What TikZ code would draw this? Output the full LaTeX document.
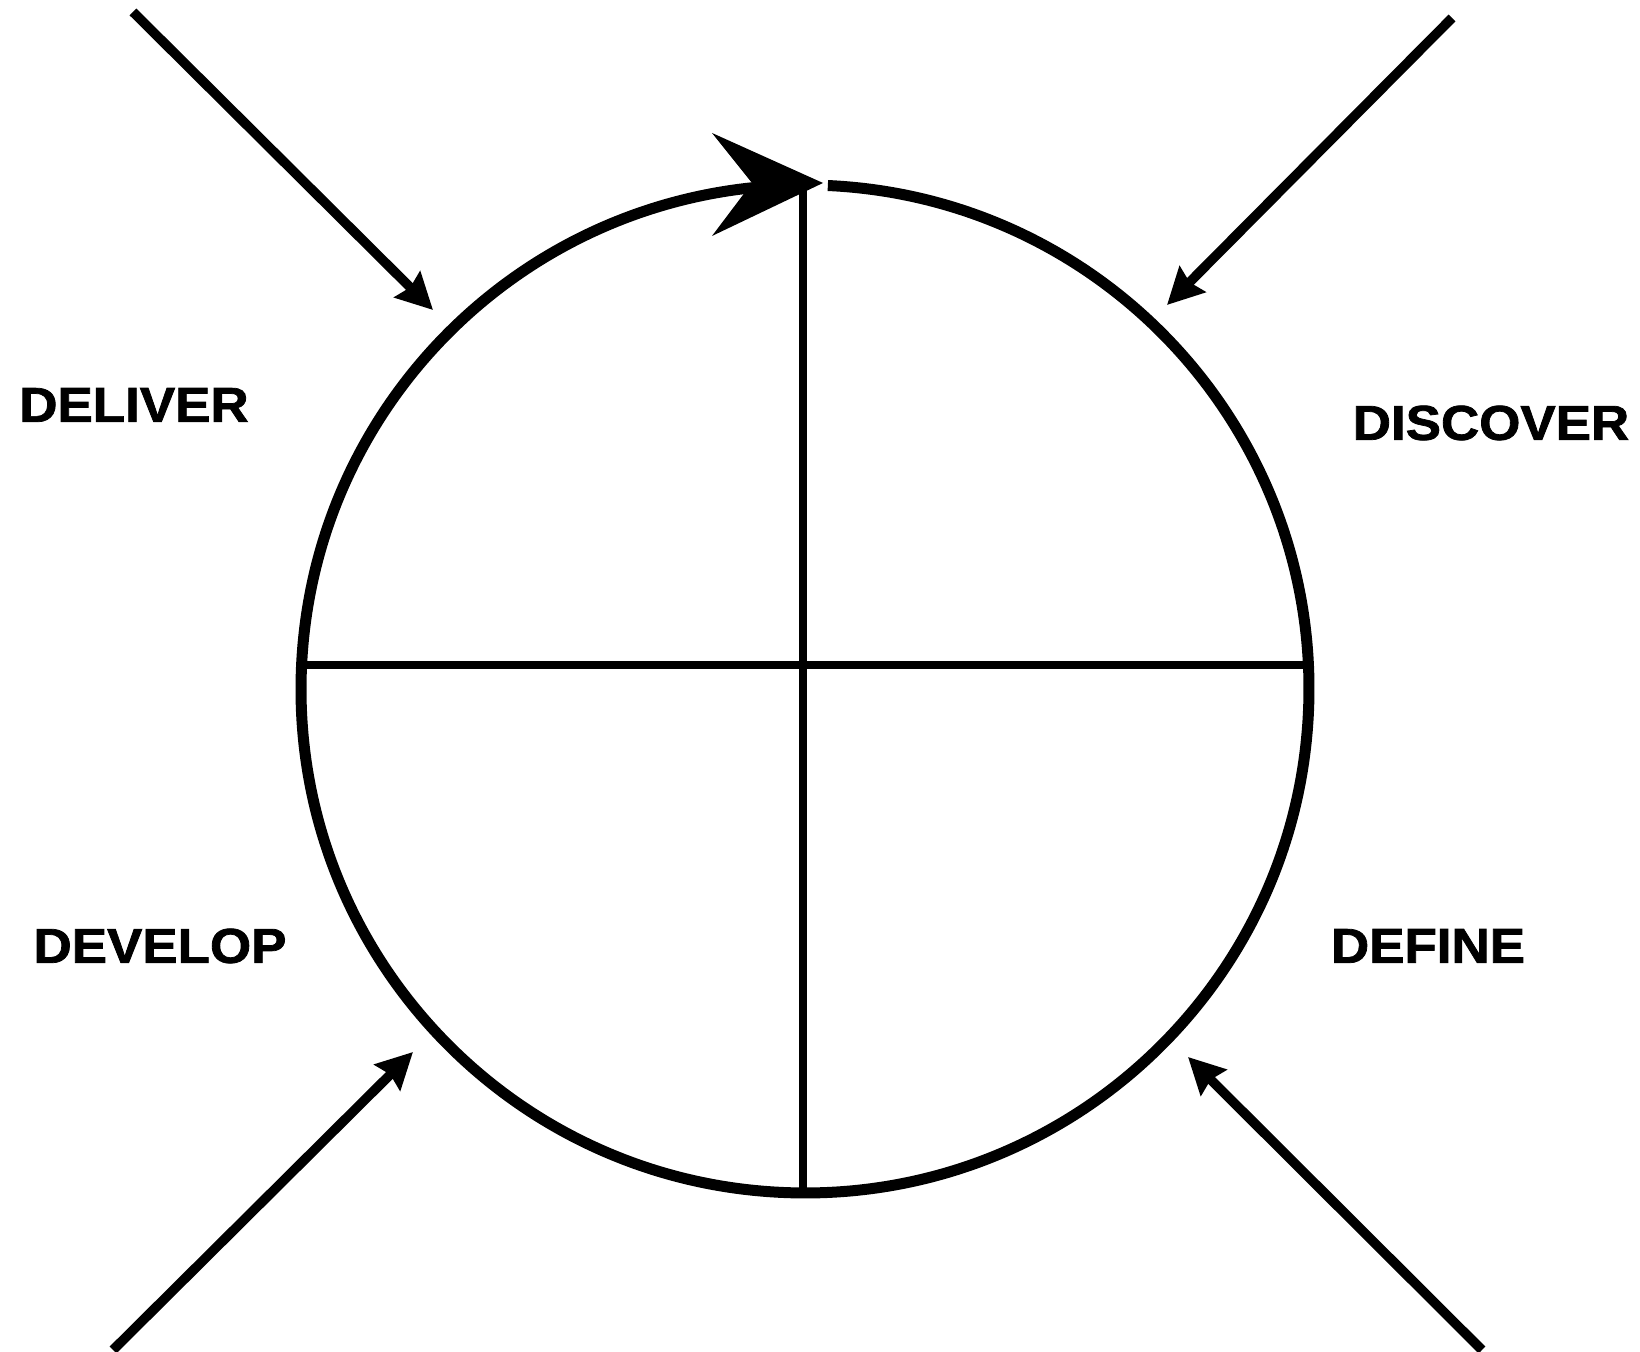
\documentclass[tikz,border=0pt]{standalone}
\usepackage{fontspec}
\setmainfont{Liberation Sans}
\newfontfamily\heavyfont{Liberation Sans}[BoldFeatures={FakeBold=1.5}]
\usetikzlibrary{arrows.meta}
\begin{document}
\begin{tikzpicture}[x=0.5pt,y=0.5pt,
  ring/.style={line width=5.5pt},
  crossline/.style={line width=4.3pt},
  inarrow/.style={line width=4.8pt, -{Stealth[length=18pt,width=18pt,inset=2pt]}},
  phase/.style={font=\heavyfont\fontsize{24.5pt}{28pt}\selectfont\bfseries, inner sep=0pt, xscale=1.08, transform shape}]
\useasboundingbox (0,0) rectangle (1640,1352);
\fill[white] (0,0) rectangle (1640,1352);
% circle geometry
\coordinate (c) at (805,663);
\coordinate (hl) at (301.6,687);
\coordinate (hr) at (1308.4,687);
\coordinate (vt) at (803,1165);
\coordinate (vb) at (803,159);
% ring with arrow at top
\draw[ring] (c) ++(87.4:504) arc[start angle=87.4, end angle=-266, radius=504];
\coordinate (tip) at (823,1169);
\coordinate (bku) at (712,1219);
\coordinate (notch) at (752,1169);
\coordinate (bkd) at (712,1116);
\fill (tip) -- (bku) -- (notch) -- (bkd) -- cycle;
% cross
\draw[crossline] (hl) -- (hr);
\draw[crossline] (vt) -- (vb);
% labels
\node[phase] (deliver) at (134,947) {DELIVER};
\node[phase] (discover) at (1491,929) {DISCOVER};
\node[phase] (develop) at (160,406) {DEVELOP};
\node[phase] (define) at (1428,406) {DEFINE};
% incoming arrows
\coordinate (a1s) at (133,1340); \coordinate (a1e) at (433,1042);
\coordinate (a2s) at (1452,1334); \coordinate (a2e) at (1167,1047);
\coordinate (a3s) at (113,2); \coordinate (a3e) at (413,300);
\coordinate (a4s) at (1482,2); \coordinate (a4e) at (1188,295);
\draw[inarrow] (a1s) -- (a1e);
\draw[inarrow] (a2s) -- (a2e);
\draw[inarrow] (a3s) -- (a3e);
\draw[inarrow] (a4s) -- (a4e);
\end{tikzpicture}
\end{document}
